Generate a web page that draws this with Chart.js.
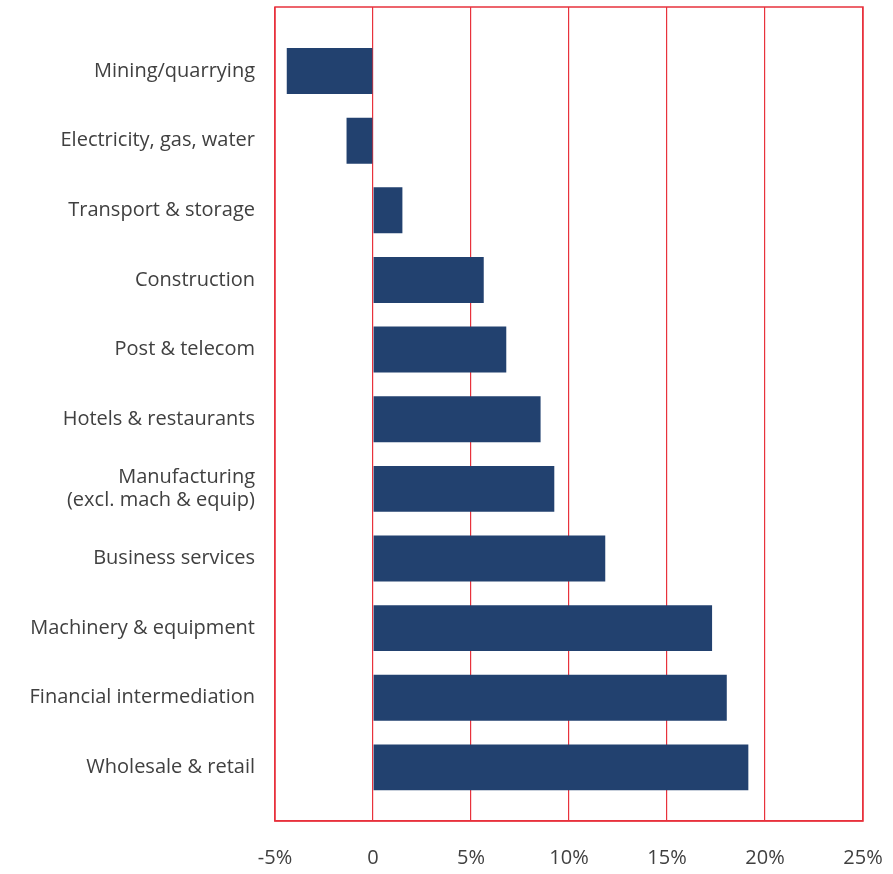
<!DOCTYPE html>
<html>
<head>
<meta charset="utf-8">
<script src="https://cdn.jsdelivr.net/npm/chart.js@4"></script>
<style>
  html, body { margin: 0; padding: 0; background: #fff; }
  #wrap { width: 893px; height: 874px; }
</style>
</head>
<body>
<div id="wrap"><canvas id="chart" width="893" height="874"></canvas></div>
<script>
const sectors = [
  "Mining/quarrying",
  "Electricity, gas, water",
  "Transport & storage",
  "Construction",
  "Post & telecom",
  "Hotels & restaurants",
  ["Manufacturing", "(excl. mach & equip)"],
  "Business services",
  "Machinery & equipment",
  "Financial intermediation",
  "Wholesale & retail"
];
const growth = [-4.4, -1.35, 1.5, 5.65, 6.8, 8.55, 9.25, 11.85, 17.3, 18.05, 19.15];
const xTicks = [-5, 0, 5, 10, 15, 20, 25];

const red = "#e8323c";
const labelFont = { family: "Open Sans", size: 20, lineHeight: 1.12 };

// red frame around the plot area
const frame = {
  id: "frame",
  afterDraw(chart) {
    const { ctx, chartArea: a } = chart;
    ctx.save();
    ctx.strokeStyle = red;
    ctx.lineWidth = 1.5;
    ctx.strokeRect(a.left, a.top, a.right - a.left, a.bottom - a.top);
    ctx.restore();
  }
};

new Chart(document.getElementById("chart"), {
  type: "bar",
  data: {
    datasets: [{
      data: growth.map((v, i) => ({ x: v, y: i })),
      backgroundColor: "#22416f",
      categoryPercentage: 1,
      barPercentage: 0.66
    }]
  },
  options: {
    indexAxis: "y",
    responsive: false,
    animation: false,
    layout: { padding: { top: 7, right: 30, bottom: 0, left: 0 } },
    plugins: { legend: { display: false }, tooltip: { enabled: false } },
    scales: {
      x: {
        type: "linear",
        min: -5,
        max: 25,
        afterBuildTicks: s => { s.ticks = xTicks.map(v => ({ value: v })); },
        grid: { color: red, lineWidth: 1.2, drawTicks: false },
        border: { color: red, width: 1.5 },
        ticks: {
          padding: 26,
          color: "#404040",
          font: labelFont,
          callback: v => v === 0 ? "0" : v + "%"
        },
        afterFit: s => { s.height = 53; s.paddingLeft = 0; s.paddingRight = 0; }
      },
      y: {
        type: "linear",
        reverse: true,
        offset: false,
        bounds: "data",
        min: -0.92,
        max: 10.77,
        afterBuildTicks: s => { s.ticks = sectors.map((_, i) => ({ value: i })); },
        grid: { display: false, drawTicks: false, offset: false },
        border: { display: false },
        ticks: {
          padding: 20,
          color: "#404040",
          font: labelFont,
          callback: v => sectors[v]
        },
        afterFit: s => { s.width = 275; s.paddingTop = 0; s.paddingBottom = 0; }
      }
    }
  },
  plugins: [frame]
});
</script>
</body>
</html>
